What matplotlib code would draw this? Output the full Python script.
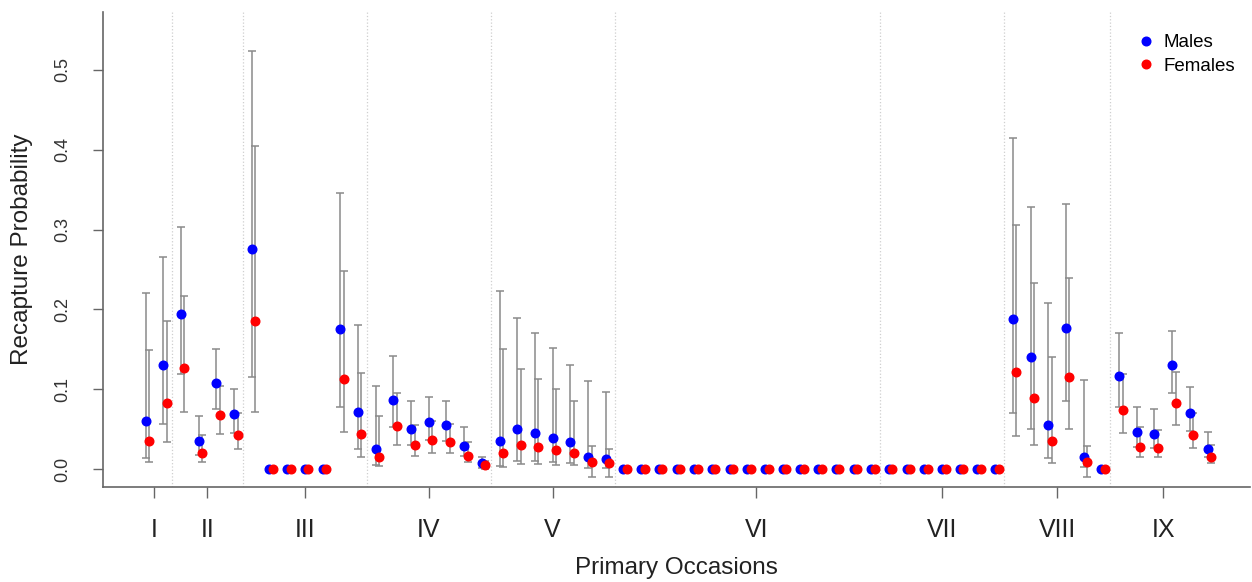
import matplotlib
matplotlib.use("Agg")
import matplotlib.pyplot as plt
from matplotlib.lines import Line2D
import numpy as np

plt.rcParams['font.family'] = ['Liberation Sans', 'DejaVu Sans']

# primary occasions and the number of secondary occasions in each
primary_labels = ['I', 'II', 'III', 'IV', 'V', 'VI', 'VII', 'VIII', 'IX']
n_secondary = [2, 4, 7, 7, 7, 15, 7, 6, 6]
primary_tick_pos = [1.5, 4.5, 10, 17, 24, 35.5, 46, 52.5, 58.5]

# recapture estimates, None = no interval drawn (estimate 0)
male_est = [0.060, 0.130, 0.194, 0.035, 0.108, 0.069, 0.276,
            0, 0, 0, 0, 0.175, 0.072,
            0.026, 0.087, 0.050, 0.059, 0.055, 0.029, 0.008,
            0.035, 0.050, 0.045, 0.039, 0.034, 0.015, 0.013] + [0] * 22 + \
           [0.188, 0.140, 0.056, 0.177, 0.016, 0,
            0.117, 0.047, 0.044, 0.130, 0.071, 0.025]
male_lo = [0.014, 0.057, 0.119, 0.018, 0.075, 0.046, 0.116,
           None, None, None, None, 0.078, 0.026,
           0.006, 0.053, 0.030, 0.037, 0.036, 0.017, 0.002,
           0.004, 0.011, 0.010, 0.009, 0.008, 0.002, 0.002] + [None] * 22 + \
          [0.070, 0.051, 0.014, 0.085, 0.003, None,
           0.078, 0.028, 0.027, 0.096, 0.048, 0.015]
male_hi = [0.220, 0.266, 0.303, 0.067, 0.151, 0.101, 0.523,
           None, None, None, None, 0.346, 0.181,
           0.104, 0.142, 0.085, 0.091, 0.086, 0.053, 0.016,
           0.223, 0.189, 0.171, 0.152, 0.130, 0.111, 0.097] + [None] * 22 + \
          [0.415, 0.328, 0.208, 0.332, 0.112, None,
           0.170, 0.078, 0.075, 0.173, 0.103, 0.047]

female_est = [0.036, 0.083, 0.127, 0.021, 0.068, 0.043, 0.186,
              0, 0, 0, 0, 0.113, 0.044,
              0.015, 0.054, 0.031, 0.037, 0.034, 0.017, 0.005,
              0.021, 0.031, 0.028, 0.024, 0.020, 0.009, 0.008] + [0] * 22 + \
             [0.122, 0.089, 0.035, 0.115, 0.009, 0,
              0.074, 0.028, 0.027, 0.083, 0.043, 0.016]
female_lo = [0.009, 0.034, 0.072, 0.009, 0.044, 0.026, 0.072,
             None, None, None, None, 0.047, 0.016,
             0.004, 0.031, 0.017, 0.021, 0.020, 0.009, 0.000,
             0.003, 0.007, 0.007, 0.006, 0.005, -0.010, -0.009] + [None] * 22 + \
            [0.042, 0.031, 0.008, 0.051, -0.010, None,
             0.045, 0.016, 0.015, 0.056, 0.027, 0.008]
female_hi = [0.149, 0.186, 0.217, 0.043, 0.104, 0.070, 0.405,
             None, None, None, None, 0.248, 0.120,
             0.067, 0.096, 0.056, 0.061, 0.057, 0.034, 0.010,
             0.151, 0.125, 0.113, 0.100, 0.085, 0.029, 0.025] + [None] * 22 + \
            [0.306, 0.233, 0.140, 0.239, 0.029, None,
             0.119, 0.053, 0.049, 0.122, 0.070, 0.030]

occ = np.arange(1, len(male_est) + 1)
f_offset = 0.2

fig = plt.figure(figsize=(12.52, 5.82), dpi=100)
ax = fig.add_axes([0.0823, 0.1632, 0.9161, 0.8162])

# separators between primary occasions
for b in np.cumsum(n_secondary)[:-1]:
    ax.axvline(b + 0.5, color='#cfcfcf', linestyle=':', linewidth=0.9, zorder=0)


def draw_ci(x, est, lo, hi):
    idx = [i for i in range(len(est)) if lo[i] is not None]
    xs = np.array([x[i] for i in idx])
    e = np.array([est[i] for i in idx])
    l = np.array([lo[i] for i in idx])
    h = np.array([hi[i] for i in idx])
    ax.errorbar(xs, e, yerr=[e - l, h - e], fmt='none', ecolor='#8a8a8a',
                elinewidth=1.1, capsize=2.6, capthick=1.1, zorder=1)


draw_ci(occ, male_est, male_lo, male_hi)
draw_ci(occ + f_offset, female_est, female_lo, female_hi)

ax.plot(occ, male_est, 'o', color='#0000ff', markersize=6.2, zorder=3)
ax.plot(occ + f_offset, female_est, 'o', color='#ff0000', markersize=6.2, zorder=4)

ax.set_xlim(-1.4, 63.4)
ax.set_ylim(-0.022, 0.572)

ax.set_yticks([0.0, 0.1, 0.2, 0.3, 0.4, 0.5])
ax.set_yticklabels(['0.0', '0.1', '0.2', '0.3', '0.4', '0.5'],
                   rotation=90, va='center', fontsize=13, color='#333333')
ax.set_xticks(primary_tick_pos)
ax.set_xticklabels(primary_labels, fontsize=18, color='#222222',
                   family=['Liberation Sans Narrow', 'Liberation Sans'])
ax.tick_params(axis='y', length=7, width=1, color='#666666', pad=16)
ax.tick_params(axis='x', length=8, width=1, color='#666666', pad=14)

for s in ['top', 'right']:
    ax.spines[s].set_visible(False)
for s in ['left', 'bottom']:
    ax.spines[s].set_color('#666666')
    ax.spines[s].set_linewidth(1.2)

ax.set_xlabel('Primary Occasions', fontsize=17.5, color='#222222', va='center')
ax.xaxis.set_label_coords(0.5, -0.1705)
ax.set_ylabel('Recapture Probability', fontsize=17.5, color='#222222', va='center')
ax.yaxis.set_label_coords(-0.0706, 0.5)

handles = [Line2D([], [], marker='o', linestyle='none', color='#0000ff', markersize=6.2),
           Line2D([], [], marker='o', linestyle='none', color='#ff0000', markersize=6.2)]
ax.legend(handles, ['Males', 'Females'], loc='upper right', frameon=False,
          fontsize=13.5, handletextpad=0.3, labelspacing=0.35,
          handlelength=1.2, bbox_to_anchor=(1.0, 0.985), borderaxespad=0.4)

fig.savefig('out.png', dpi=100)
